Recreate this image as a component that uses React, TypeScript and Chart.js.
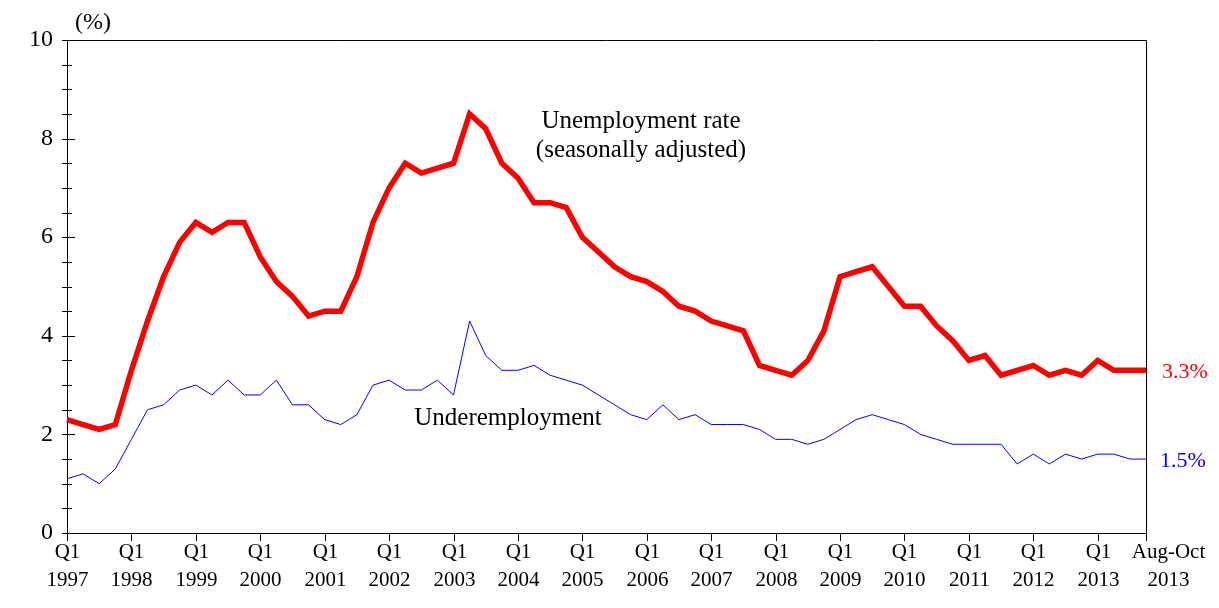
import React, { useEffect, useRef } from "react";
import { Chart, registerables } from "chart.js";
Chart.register(...registerables);

const years = ["1997","1998","1999","2000","2001","2002","2003","2004","2005","2006","2007","2008","2009","2010","2011","2012","2013"];
const quarters = ["Q1","Q2","Q3","Q4"];
const unemployment = [
  2.3,2.2,2.1,2.2, 3.3,4.3,5.2,5.9, 6.3,6.1,6.3,6.3, 5.6,5.1,4.8,4.4,
  4.5,4.5,5.2,6.3, 7.0,7.5,7.3,7.4, 7.5,8.5,8.2,7.5, 7.2,6.7,6.7,6.6,
  6.0,5.7,5.4,5.2, 5.1,4.9,4.6,4.5, 4.3,4.2,4.1,3.4, 3.3,3.2,3.5,4.1,
  5.2,5.3,5.4,5.0, 4.6,4.6,4.2,3.9, 3.5,3.6,3.2,3.3, 3.4,3.2,3.3,3.2,
  3.5,3.3,3.3,3.3,
];
const underemployment = [
  1.1,1.2,1.0,1.3, 1.9,2.5,2.6,2.9, 3.0,2.8,3.1,2.8, 2.8,3.1,2.6,2.6,
  2.3,2.2,2.4,3.0, 3.1,2.9,2.9,3.1, 2.8,4.3,3.6,3.3, 3.3,3.4,3.2,3.1,
  3.0,2.8,2.6,2.4, 2.3,2.6,2.3,2.4, 2.2,2.2,2.2,2.1, 1.9,1.9,1.8,1.9,
  2.1,2.3,2.4,2.3, 2.2,2.0,1.9,1.8, 1.8,1.8,1.8,1.4, 1.6,1.4,1.6,1.5,
  1.6,1.6,1.5,1.5,
];
const labels: string[] = [];
years.forEach((y) => quarters.forEach((q) => labels.push(q + " " + y)));
labels[labels.length - 1] = "Aug-Oct 2013";

const FONT = "'Liberation Serif', 'Times New Roman', serif";

const overlay = {
  id: "overlay",
  afterDraw(chart: any) {
    const { ctx, chartArea: a, scales } = chart;
    const y = scales.y;
    const x = scales.x;
    ctx.save();
    ctx.strokeStyle = "#000";
    ctx.lineWidth = 1;
    ctx.beginPath();
    ctx.moveTo(a.left, a.top + 0.5);
    ctx.lineTo(a.right + 0.5, a.top + 0.5);
    ctx.lineTo(a.right + 0.5, a.bottom);
    ctx.stroke();
    for (let v = 0; v <= 10.001; v += 0.5) {
      const py = Math.round(y.getPixelForValue(v)) + 0.5;
      const major = Math.abs(v - Math.round(v / 2) * 2) < 0.01;
      ctx.beginPath();
      ctx.moveTo(a.left - 5, py);
      ctx.lineTo(a.left + (major ? 8 : 5), py);
      ctx.stroke();
    }
    ctx.fillStyle = "#000";
    ctx.font = "21px " + FONT;
    ctx.textAlign = "center";
    ctx.textBaseline = "middle";
    const last = labels.length - 1;
    for (let i = 0; i <= last; i++) {
      if (i % 4 !== 0 && i !== last) continue;
      const px = Math.round(x.getPixelForValue(i)) + 0.5;
      ctx.beginPath();
      ctx.moveTo(px, a.bottom);
      ctx.lineTo(px, a.bottom + 8);
      ctx.stroke();
      if (i === last) {
        ctx.fillText("Aug-Oct", px + 22, a.bottom + 19);
        ctx.fillText("2013", px + 22, a.bottom + 47);
      } else {
        ctx.fillText("Q1", px, a.bottom + 19);
        ctx.fillText(years[i / 4], px, a.bottom + 47);
      }
    }
    ctx.font = "24px " + FONT;
    ctx.fillText("(%)", 93, 23);
    ctx.font = "25px " + FONT;
    ctx.fillText("Unemployment rate", 641, 121);
    ctx.fillText("(seasonally adjusted)", 641, 150);
    ctx.fillText("Underemployment", 508, 418);
    ctx.textAlign = "left";
    ctx.font = "22px " + FONT;
    ctx.fillStyle = "#ff0000";
    ctx.fillText("3.3%", 1162, y.getPixelForValue(3.3) + 2);
    ctx.fillStyle = "#0000ff";
    ctx.fillText("1.5%", 1160, y.getPixelForValue(1.5) + 2);
    ctx.restore();
  },
};

export default function App() {
  const ref = useRef<HTMLCanvasElement>(null);
  useEffect(() => {
    const chart = new Chart(ref.current!, {
      type: "line",
      data: {
        labels,
        datasets: [
          { data: unemployment, borderColor: "#ff0000", borderWidth: 5.5, pointRadius: 0, tension: 0 },
          { data: underemployment, borderColor: "#0000ff", borderWidth: 1, pointRadius: 0, tension: 0 },
        ],
      },
      options: {
        animation: false,
        responsive: false,
        layout: { padding: { top: 40, right: 73, left: 0, bottom: 0 } },
        plugins: { legend: { display: false }, tooltip: { enabled: false } },
        scales: {
          x: {
            type: "category",
            offset: false,
            grid: { display: false, drawTicks: false },
            border: { display: true, color: "#000", width: 1 },
            ticks: { display: false },
            afterFit: (s: any) => { s.height = 75; },
          },
          y: {
            min: 0,
            max: 10,
            grid: { display: false, drawTicks: false },
            border: { display: true, color: "#000", width: 1 },
            ticks: { stepSize: 2, padding: 14, color: "#000", font: { family: FONT, size: 24 } },
            afterFit: (s: any) => { s.width = 67; },
          },
        },
      },
      plugins: [overlay],
    });
    return () => chart.destroy();
  }, []);
  return (
    <div style={{ position: "absolute", left: 0, top: 0, width: 1219, height: 608, background: "#fff" }}>
      <canvas ref={ref} width={1219} height={608} style={{ width: 1219, height: 608 }} />
    </div>
  );
}
